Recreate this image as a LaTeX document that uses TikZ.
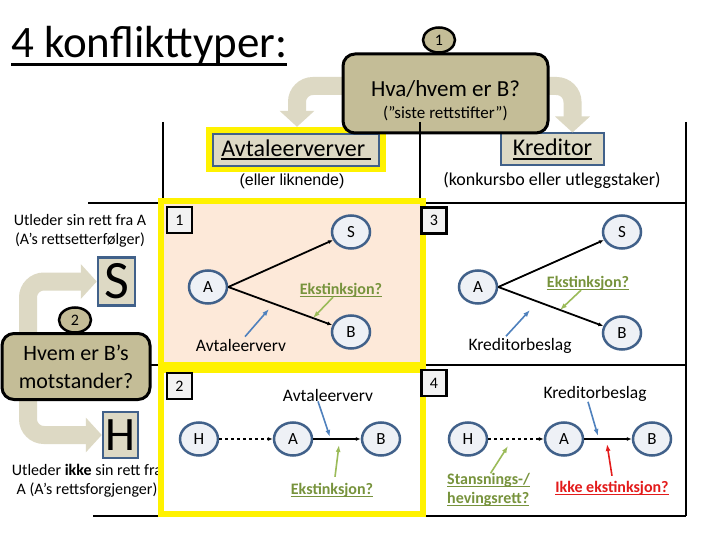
\documentclass[tikz,border=0pt]{standalone}
\usepackage{fontspec}
\setmainfont{Carlito}
\newfontfamily\arialfont{Liberation Sans}
\usetikzlibrary{
    arrows.meta,
    shapes.geometric,
}
\definecolor{tanfill}{HTML}{C4BD97}
\definecolor{beige}{HTML}{DDD9C4}
\definecolor{slate}{HTML}{41618A}
\definecolor{circfill}{HTML}{EEF1F6}
\definecolor{peach}{HTML}{FDE9D9}
\definecolor{numfill}{HTML}{F2F2F2}
\definecolor{olive}{HTML}{77933C}
\definecolor{leaf}{HTML}{9BBB59}
\definecolor{steel}{HTML}{4F81BD}
\definecolor{alert}{HTML}{E31B1B}
\newcommand\undl[2][1pt]{\setbox0=\hbox{#2}\leavevmode\rlap{\rule[-0.17em]{\wd0}{#1}}\box0}

\begin{document}
\begin{tikzpicture}[x=1pt, y=-1pt,
    circ/.style = {draw=slate, line width=2.5pt, fill=circfill, ellipse, minimum width=38pt, minimum height=33pt, inner sep=0pt, font=\fontsize{17}{20}\selectfont},
    numbox/.style = {draw, line width=2.5pt, fill=numfill, minimum width=25pt, minimum height=26pt, inner sep=0pt, font=\fontsize{16}{18}\selectfont},
    qcirc/.style = {draw, ellipse, line width=2.5pt, fill=tanfill, minimum width=32pt, minimum height=25pt, inner sep=0pt, font=\fontsize{16}{18}\selectfont},
    question/.style = {draw, line width=3pt, fill=tanfill, rounded corners=12pt, align=center},
    bigarrow/.style = {draw=beige, line width=18pt, rounded corners=16pt, -{Triangle[width=34pt,length=16pt]}},
    ptr/.style = {line width=1.8pt, -{Latex[length=5pt,width=4pt]}},
    note/.style = {line width=1.6pt, -{Latex[length=7pt,width=5pt]}},
    frame/.style = {draw=yellow, line width=6pt},
    lbl/.style = {inner sep=0pt, font=\fontsize{17.5}{20}\selectfont},
    ekst/.style = {inner sep=0pt, text=olive, font=\fontsize{16}{19}\bfseries\selectfont},
    grid/.style = {line width=1.2pt}]
    \useasboundingbox[fill=white] (0,0) rectangle (720,540);
    \node[anchor=base west, inner sep=0pt] (title) at (11,58) {\fontsize{45}{48}\selectfont\undl[2.5pt]{4 konflikttyper:}};

    \node[fill=yellow, minimum width=180pt, minimum height=45pt] (avtframe) at (296,149.5) {};
    \node[draw=slate, fill=beige, line width=1.5pt, minimum width=166pt, minimum height=32pt, inner sep=0pt, font=\fontsize{24}{26}\selectfont] (avt) at (296,150) {\undl[2pt]{Avtaleerverver\ }};
    \node[draw=slate, fill=beige, line width=2pt, minimum width=103pt, minimum height=32pt, inner sep=0pt, font=\fontsize{24}{26}\selectfont] (kred) at (552.5,149.5) {\undl[2pt]{Kreditor}};
    \coordinate (hvaw) at (343,86);
    \coordinate (hvae) at (548,86);
    \draw[bigarrow] (hvaw) -| ([xshift=1pt]avtframe.north);
    \draw[bigarrow] (hvae) -| ([xshift=20pt]kred.north);
    \node[question, minimum width=205pt, minimum height=79pt, font=\fontsize{23}{28}\selectfont] (hva) at (445.5,93.5) {\rule{0pt}{31pt}Hva/hvem er B?\\[-6pt]{\fontsize{17}{20}\selectfont (”siste rettstifter”)}};
    \node[qcirc] (nr1) at (439,40) {1};
    \node[inner sep=0pt, font=\arialfont\fontsize{16}{18}\selectfont] (avtsub) at (292,181) {(eller liknende)};
    \node[inner sep=0pt, font=\fontsize{18}{20}\selectfont] (kredsub) at (552,180) {(konkursbo eller utleggstaker)};

    \node[draw=slate, fill=beige, line width=2.5pt, minimum width=37pt, minimum height=48pt, inner sep=0pt, font=\fontsize{54}{54}\selectfont] (sbox) at (116.5,281.5) {S};
    \node[draw=slate, fill=beige, line width=2.5pt, minimum width=35pt, minimum height=46pt, inner sep=0pt, font=\fontsize{48}{48}\selectfont] (hbox) at (120.5,435) {H};
    \coordinate (hvemn) at (28,340);
    \coordinate (hvems) at (28,395);
    \draw[bigarrow] (hvemn) |- (sbox.west);
    \draw[bigarrow] (hvems) |- (hbox.west);
    \node[question, minimum width=148pt, minimum height=66pt, font=\fontsize{22}{28}\selectfont] (hvem) at (76,366.5) {Hvem er B’s\\motstander?};
    \node[qcirc] (nr2) at (75,320) {2};
    \node[align=center, inner sep=0pt, font=\fontsize{16}{19}\selectfont] (fra) at (80,230.5) {Utleder sin rett fra A\\(A’s rettsetterfølger)};
    \node[align=center, inner sep=0pt, font=\fontsize{16}{19}\selectfont] (ikkefra) at (87,480.5) {Utleder \textbf{ikke} sin rett fra\\A (A’s rettsforgjenger)};

    \draw[grid] (163,122) -- (163,203);
    \draw[grid] (420,122) -- (420,516);
    \draw[grid] (686,122) -- (686,516);
    \draw[grid] (88,203) -- (686,203);
    \draw[grid] (150,365) -- (686,365);
    \draw[grid] (93,516) -- (686,516);

    \draw[frame, fill=peach] (161,201) rectangle (423,365);
    \draw[frame, fill=white] (161,370) rectangle (423,514);
    \node[numbox] (n1) at (179.5,220) {1};
    \node[numbox] (n2) at (179.5,386) {2};
    \node[numbox] (n3) at (434,220.5) {3};
    \node[numbox] (n4) at (434,383) {4};

    \node[circ] (a1) at (208,287) {A};
    \node[circ] (s1) at (351,232) {S};
    \node[circ] (b1) at (351,332) {B};
    \draw[ptr] (a1.east) -- (s1);
    \draw[ptr] (a1.east) -- (b1);
    \node[ekst] (ek1) at (341,290) {\undl{Ekstinksjon?}};
    \node[lbl] (avt1) at (241,345) {Avtaleerverv};
    \coordinate (p1) at (269,309);
    \coordinate (q1) at (313,318);
    \draw[note, steel] ([xshift=4pt,yshift=2pt]avt1.north) -- (p1);
    \draw[note, leaf] ([xshift=-8pt]ek1.south) -- (q1);

    \node[circ] (a3) at (478,287) {A};
    \node[circ] (s3) at (622,232) {S};
    \node[circ] (b3) at (622,333) {B};
    \draw[ptr] (a3.east) -- (s3);
    \draw[ptr] (a3.east) -- (b3);
    \node[ekst] (ek3) at (588,283) {\undl{Ekstinksjon?}};
    \node[lbl] (kb3) at (520,346) {Kreditorbeslag};
    \coordinate (p3) at (530,310);
    \coordinate (q3) at (560,310);
    \draw[note, steel] ([xshift=-14pt,yshift=2pt]kb3.north) -- (p3);
    \draw[note, leaf] ([xshift=-7pt]ek3.south) -- (q3);

    \node[circ] (h2) at (199,439) {H};
    \node[circ] (a2) at (293,439) {A};
    \node[circ] (b2) at (381,439) {B};
    \draw[ptr, dashed] (h2) -- (a2);
    \draw[ptr] (a2) -- (b2);
    \node[lbl] (avt2) at (328,395) {Avtaleerverv};
    \node[ekst] (ek2) at (332,490) {\undl{Ekstinksjon?}};
    \coordinate (p2) at (330,437);
    \coordinate (q2) at (339,445);
    \draw[note, steel] ([xshift=-10pt]avt2.south) -- (p2);
    \draw[note, leaf] ([xshift=3pt,yshift=6pt]ek2.north) -- (q2);

    \node[circ] (h4) at (468,439) {H};
    \node[circ] (a4) at (564,439) {A};
    \node[circ] (b4) at (652,439) {B};
    \draw[ptr, dashed] (h4) -- (a4);
    \draw[ptr] (a4) -- (b4);
    \node[lbl] (kb4) at (595,394) {Kreditorbeslag};
    \node[ekst, align=left, anchor=west] (st4) at (447,490) {\undl{Stansnings-/}\\\undl{hevingsrett?}};
    \node[ekst, text=alert] (ik4) at (612,488) {\undl{Ikke ekstinksjon?}};
    \coordinate (p4) at (598,436);
    \coordinate (q4) at (508,446);
    \coordinate (r4) at (607,444);
    \draw[note, steel] ([xshift=-7pt]kb4.south) -- (p4);
    \draw[note, leaf] ([xshift=2pt]st4.north) -- (q4);
    \draw[note, alert] ([yshift=5pt]ik4.north) -- (r4);
\end{tikzpicture}
\end{document}
